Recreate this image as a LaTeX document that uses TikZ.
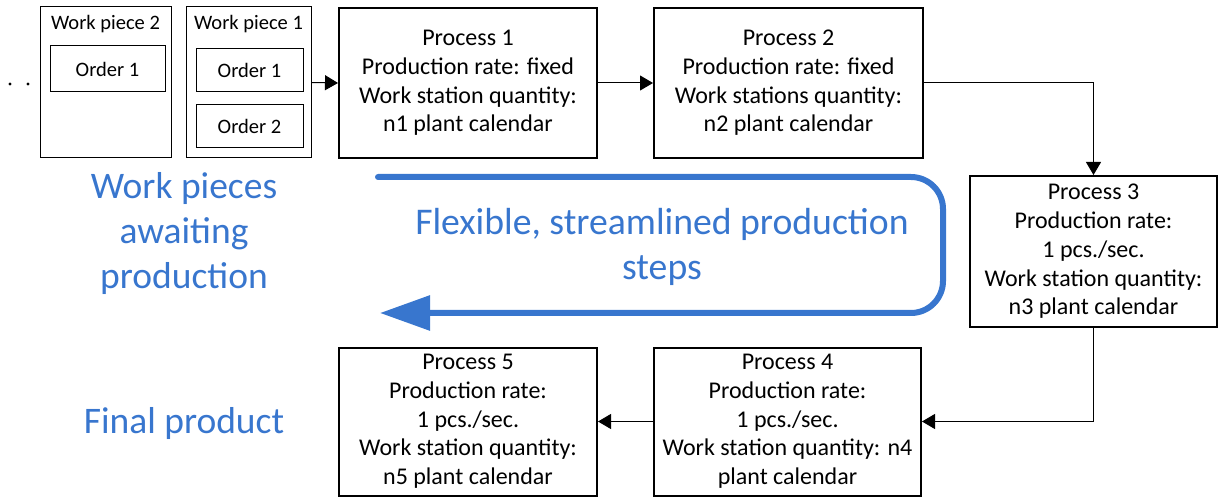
\documentclass[tikz,border=0pt]{standalone}
\usepackage{fontspec}
\setmainfont{Carlito}
\usetikzlibrary{arrows.meta}
\definecolor{flowblue}{RGB}{56,118,206}
\tikzset{
  wpbox/.style={draw=black, line width=1pt, inner sep=0pt},
  ordbox/.style={draw=black, line width=1pt, inner sep=0pt, font=\fontsize{20.5}{24}\selectfont},
  wplabel/.style={inner sep=0pt, font=\fontsize{20.5}{24}\selectfont},
  procbox/.style={draw=black, line width=2pt, inner sep=0pt, align=center, font=\fontsize{24}{28.7}\selectfont},
  conn/.style={line width=1pt, -{Triangle[length=13pt,width=15pt]}},
  bluetext/.style={text=flowblue, align=center, inner sep=0pt},
  dotmark/.style={circle, fill=black, inner sep=0pt, minimum size=3.2pt}
}
\begin{document}
\begin{tikzpicture}[x=1pt,y=-1pt]
\useasboundingbox (0,0) rectangle (1219,497);
% dots
\node[dotmark] (d1) at (10,84) {};
\node[dotmark] (d2) at (28,84) {};
% work pieces
\node[wpbox, minimum width=131pt, minimum height=151pt] (wp2) at (105.5,82.5) {};
\node[wplabel] (wp2l) at (105.5,24) {Work piece 2};
\node[ordbox, minimum width=115pt, minimum height=46pt] (o21) at (107.5,69) {Order 1};
\node[wpbox, minimum width=125pt, minimum height=151pt] (wp1) at (248.5,82.5) {};
\node[wplabel] (wp1l) at (248.5,24) {Work piece 1};
\node[ordbox, minimum width=107pt, minimum height=43pt] (o11) at (249.5,70.5) {Order 1};
\node[ordbox, minimum width=107pt, minimum height=43pt] (o12) at (249.5,126.5) {Order 2};
% processes
\node[procbox, minimum width=258pt, minimum height=150pt] (p1) at (468,83)
  {Process 1\\Production rate: fixed\\Work station quantity:\\n1 plant calendar};
\node[procbox, minimum width=269pt, minimum height=150pt] (p2) at (788.5,83)
  {Process 2\\Production rate: fixed\\Work stations quantity:\\n2 plant calendar};
\node[procbox, minimum width=247pt, minimum height=151pt] (p3) at (1093.5,251.5)
  {Process 3\\Production rate:\\1 pcs./sec.\\Work station quantity:\\n3 plant calendar};
\node[procbox, minimum width=267pt, minimum height=148pt] (p4) at (787.5,421.5)
  {Process 4\\Production rate:\\1 pcs./sec.\\Work station quantity: n4\\plant calendar};
\node[procbox, minimum width=258pt, minimum height=148pt] (p5) at (468,421.5)
  {Process 5\\Production rate:\\1 pcs./sec.\\Work station quantity:\\n5 plant calendar};
% connectors
\draw[conn] (wp1.east) -- (p1.west);
\draw[conn] (p1.east) -- (p2.west);
\draw[conn] (p2.east) -| (p3.north);
\draw[conn] (p3.south) |- (p4.east);
\draw[conn] (p4.west) -- (p5.east);
% blue flow arrow
\coordinate (bs) at (378,177);
\coordinate (bc1) at (943,177);
\coordinate (bc2) at (943,313);
\coordinate (be) at (380,313);
\draw[flowblue, line width=6pt, line cap=round, rounded corners=32pt,
      -{Triangle[length=50pt,width=34pt]}] (bs) -- (bc1) -- (bc2) -- (be);
% blue texts
\node[bluetext, font=\fontsize{37.7}{45}\selectfont] (flex) at (662,247)
  {Flexible, streamlined production\\steps};
\node[bluetext, font=\fontsize{37.5}{45}\selectfont] (await) at (184,234)
  {Work pieces\\awaiting\\production};
\node[bluetext, font=\fontsize{37.5}{45}\selectfont] (final) at (184,424)
  {Final product};
\end{tikzpicture}
\end{document}
